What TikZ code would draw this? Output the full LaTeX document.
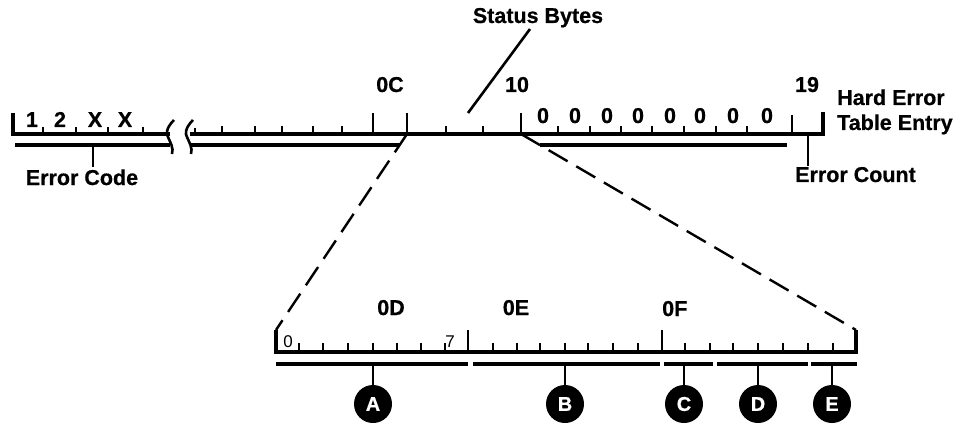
\documentclass[tikz,border=0pt]{standalone}
\usepackage{fontspec}
\setmainfont{Liberation Sans}[BoldFeatures={FakeBold=0.6}]
\begin{document}
\begin{tikzpicture}[x=1pt,y=-1pt,
  lbl/.style={font=\fontsize{21.5}{22}\selectfont\bfseries,inner sep=0pt,anchor=base},
  sml/.style={font=\fontsize{17}{17}\selectfont,inner sep=0pt,anchor=base},
  bar/.style={line width=3.2pt},
  tk/.style={line width=2.6pt},
  dsh/.style={line width=2.4pt,dash pattern=on 22pt off 10pt},
  badge/.style={circle,fill=black,minimum size=38pt,inner sep=0pt,text=white,font=\fontsize{20}{20}\selectfont\bfseries}]
\useasboundingbox (0,0) rectangle (969,425);
% ---------- upper entry ----------
\draw[bar] (13,113) -- (13,134) -- (170,134);
\draw[bar] (15,145) -- (170,145);
\foreach \x in {43,76,108,143} \draw[tk] (\x,127) -- (\x,134);
\draw[bar] (190,134) -- (823,134) -- (823,112);
\draw[bar] (190,145) -- (400,145);
\draw[bar] (540,145) -- (787,145);
\draw[tk] (195,128) -- (195,134);
\foreach \x in {222,255,282,313,342,446,483,558,590,621,652,684,716,747} \draw[tk] (\x,126) -- (\x,134);
\foreach \x in {373,407,521} \draw[tk] (\x,113) -- (\x,134);
\draw[tk] (792,115) -- (792,134);
% break marks
\draw[tk] (174,120) .. controls (166,128) and (166,134) .. (168,137) .. controls (170,142) and (174,148) .. (172,154);
\draw[tk] (193,120) .. controls (185,128) and (185,134) .. (187,137) .. controls (189,142) and (193,148) .. (191,154);
% labels upper
\node[lbl] (c1) at (32,127) {1};
\node[lbl] (c2) at (60,127) {2};
\node[lbl] (c3) at (95,127) {X};
\node[lbl] (c4) at (125,127) {X};
\foreach \x [count=\i] in {543,575,607,638,670,700,733,767} \node[lbl] (z\i) at (\x,123) {0};
\node[lbl] (b0C) at (390,92) {0C};
\node[lbl] (b10) at (517,92) {10};
\node[lbl] (b19) at (807,92) {19};
\node[lbl,anchor=base west] (hard) at (837,105) {Hard Error};
\node[lbl,anchor=base west] (table) at (837,130) {Table Entry};
\node[lbl] (status) at (538,23) {Status Bytes};
\node[lbl] (ecode) at (82,185) {Error Code};
\node[lbl,anchor=base west] (ecount) at (795,182) {Error Count};
% connectors upper
\coordinate (sb) at (530,29);
\coordinate (sbe) at (468,113);
\draw[tk] (sb) -- (sbe);
\coordinate (ec) at (93,145);
\draw[tk] (ec) -- (93,167);
\coordinate (en) at (808,134);
\draw[tk] (en) -- (808,166);
% ---------- expansion ----------
\coordinate (tl) at (407,134);
\coordinate (tr) at (521,134);
\coordinate (bl) at (276,330);
\coordinate (br) at (856,330);
\draw[dsh] (tl) -- (bl);
\draw[dsh] (tr) -- (br);
% lower scale
\draw[bar] (bl) -- (276,352) -- (856,352) -- (br);
\foreach \x in {299,323,348,373,397,421,445,493,517,540,565,588,613,638,685,710,733,758,783,808,833} \draw[tk] (\x,343) -- (\x,352);
\foreach \x in {468,662} \draw[tk] (\x,330) -- (\x,352);
\draw[bar] (276,364) -- (468,364);
\draw[bar] (473,364) -- (660,364);
\draw[bar] (664,364) -- (713,364);
\draw[bar] (717,364) -- (808,364);
\draw[bar] (811,364) -- (857,364);
\node[sml] (s0) at (288,347) {0};
\node[sml] (s7) at (450,347) {7};
\node[lbl] (b0D) at (391,315) {0D};
\node[lbl] (b0E) at (516,315) {0E};
\node[lbl,anchor=base west] (b0F) at (662,316) {0F};
% badges
\node[badge] (A) at (373,404) {A};
\node[badge] (B) at (565,404) {B};
\node[badge] (C) at (684,404) {C};
\node[badge] (D) at (758,404) {D};
\node[badge] (E) at (832,404) {E};
\foreach \n/\x in {A/373,B/565,C/684,D/758,E/832} {
  \coordinate (p\n) at (\x,364);
  \draw[tk] (p\n) -- (\n.north);
}
\end{tikzpicture}
\end{document}
